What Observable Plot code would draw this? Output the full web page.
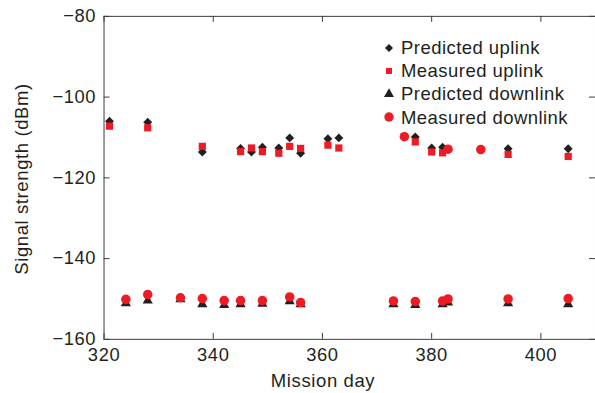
<!DOCTYPE html>
<html>
<head>
<meta charset="utf-8">
<script src="https://cdn.jsdelivr.net/npm/d3@7"></script>
<script src="https://cdn.jsdelivr.net/npm/@observablehq/plot@0.6"></script>
<style>
  html, body { margin: 0; padding: 0; background: #fff; overflow: hidden; }
  #wrap { position: relative; width: 595px; height: 393px; overflow: hidden; font-family: "Liberation Sans", Arial, sans-serif; color: #231f20; }
  #chart svg text { font-family: "Liberation Sans", Arial, sans-serif; font-size: 18.5px; letter-spacing: 0.6px; }
  #legend { position: absolute; left: 382px; top: 36px; font-size: 18.5px; letter-spacing: 0.45px; line-height: 23.2px; }
  #legend .row { display: flex; align-items: center; white-space: nowrap; height: 23.2px; }
  #legend svg { width: 14px; height: 14px; margin-right: 5px; overflow: visible; }
  .title { position: absolute; font-size: 18.5px; letter-spacing: 0.6px; white-space: nowrap; line-height: 1; }
  #ytitle { left: 22px; top: 179px; transform: translate(-50%, -50%) rotate(-90deg); }
  #xtitle { left: 323px; top: 381px; transform: translate(-50%, -50%); }
</style>
</head>
<body>
<div id="wrap"><div id="chart"></div><div id="legend"></div><div id="ytitle" class="title"></div><div id="xtitle" class="title"></div></div>
<script>
// ---- data ----
const seriesNames = ["Predicted uplink", "Measured uplink", "Predicted downlink", "Measured downlink"];

const predUpDay = [321, 328, 338, 345, 347, 349, 352, 354, 356, 361, 363, 375, 377, 380, 382, 383, 389, 394, 405];
const predUp    = [-106.0, -106.2, -113.6, -112.7, -113.6, -112.4, -112.6, -110.1, -113.9, -110.3, -110.1, -109.8, -109.9, -112.6, -112.4, -112.9, -113.0, -112.8, -112.8];

const measUpDay = [321, 328, 338, 345, 347, 349, 352, 354, 356, 361, 363, 377, 380, 382, 394, 405];
const measUp    = [-107.2, -107.6, -112.2, -113.5, -112.6, -113.5, -113.9, -112.2, -112.7, -111.9, -112.6, -111.1, -113.6, -113.8, -114.2, -114.7];

const predDownDay = [324, 328, 334, 338, 342, 345, 349, 354, 356, 373, 377, 382, 383, 394, 405];
const predDown    = [-151.1, -150.4, -150.1, -151.3, -151.5, -151.3, -151.2, -150.6, -151.3, -151.3, -151.5, -151.3, -150.9, -151.1, -151.3];

const measDownDay = [324, 328, 334, 338, 342, 345, 349, 354, 356, 373, 375, 377, 382, 383, 383, 389, 394, 405];
const measDown    = [-150.1, -148.9, -149.7, -149.9, -150.4, -150.4, -150.4, -149.5, -150.9, -150.5, -109.8, -150.6, -150.5, -150.0, -112.9, -113.0, -150.0, -149.9];

const xTicks = [320, 340, 360, 380, 400];
const yTicks = [-160, -140, -120, -100, -80];
const xLabel = "Mission day";
const yLabel = "Signal strength (dBm)";

// ---- styling ----
const RED = "#ed1c24", BLACK = "#231f20", AXIS = "#3c3c3c";
const W = 600, H = 393, mL = 104.4, mR = 0, mT = 16, mB = 51.3;
const frameW = W - mL - mR, frameH = H - mT - mB;
const TICK = 6;

const toRows = (days, vals) => days.map((d, i) => ({day: d, val: vals[i]}));
const pu = toRows(predUpDay, predUp);
const mu = toRows(measUpDay, measUp);
const pd = toRows(predDownDay, predDown);
const md = toRows(measDownDay, measDown);

const chart = Plot.plot({
  width: W, height: H,
  marginLeft: mL, marginRight: mR, marginTop: mT, marginBottom: mB,
  x: {domain: [320, 410], axis: null},
  y: {domain: [-160, -80], axis: null},
  marks: [
    Plot.frame({stroke: AXIS, strokeWidth: 1}),
    // inward ticks
    Plot.tickX(xTicks, {x: d => d, insetTop: frameH - TICK, stroke: AXIS}),
    Plot.tickX(xTicks, {x: d => d, insetBottom: frameH - TICK, stroke: AXIS}),
    Plot.tickY(yTicks, {y: d => d, insetRight: frameW - TICK, stroke: AXIS}),
    Plot.tickY(yTicks, {y: d => d, insetLeft: frameW - TICK, stroke: AXIS}),
    // tick labels
    Plot.axisX({ticks: xTicks, anchor: "bottom", tickSize: 0, tickPadding: 9, fontSize: 18.5, fill: BLACK, label: null}),
    Plot.axisY({ticks: yTicks, anchor: "left", tickSize: 0, tickPadding: 8, fontSize: 18.5, fill: BLACK, label: null}),
    // data
    Plot.dot(pu, {x: "day", y: "val", symbol: "diamond2", r: 4.05, fill: BLACK, stroke: "none"}),
    Plot.dot(pd, {x: "day", y: "val", symbol: "triangle", r: 3.8, fill: BLACK, stroke: "none"}),
    Plot.dot(mu, {x: "day", y: "val", symbol: "square", r: 4.1, fill: RED, stroke: "none"}),
    Plot.dot(md, {x: "day", y: "val", symbol: "circle", r: 4.8, fill: RED, stroke: "none"})
  ]
});
document.getElementById("chart").appendChild(chart);

document.getElementById("xtitle").textContent = xLabel;
document.getElementById("ytitle").textContent = yLabel;

// ---- legend ----
const legendSymbols = [
  {sym: d3.symbolDiamond2, r: 3.6, fill: BLACK},
  {sym: d3.symbolSquare, r: 3.4, fill: RED},
  {sym: d3.symbolTriangle, r: 3.7, fill: BLACK},
  {sym: d3.symbolCircle, r: 4.7, fill: RED}
];
const legend = d3.select("#legend");
seriesNames.forEach((name, i) => {
  const s = legendSymbols[i];
  const row = legend.append("div").attr("class", "row");
  const svg = row.append("svg").attr("viewBox", "-7 -7 14 14");
  svg.append("path").attr("d", d3.symbol(s.sym, Math.PI * s.r * s.r)()).attr("fill", s.fill);
  row.append("span").text(name);
});
</script>
</body>
</html>
